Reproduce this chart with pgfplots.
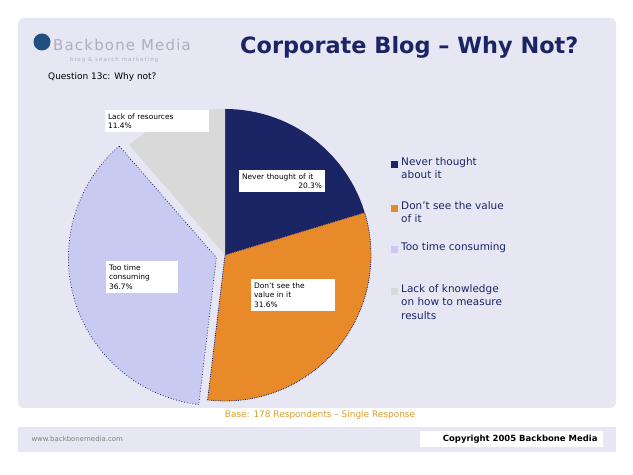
\documentclass[border=0pt]{standalone}
\usepackage{pgfplots}
\pgfplotsset{compat=1.18}
\usepackage{fontspec}
\setmainfont{DejaVu Sans}
\definecolor{navy}{HTML}{1B2465}
\definecolor{pieorange}{HTML}{E8892A}
\definecolor{lav}{HTML}{C9CAF2}
\definecolor{piegray}{HTML}{D9D9D9}
\definecolor{panel}{HTML}{E6E7F2}
\definecolor{logoblue}{HTML}{1F5080}
\definecolor{logogray}{HTML}{ADAFC0}
\definecolor{srcorange}{HTML}{D9A030}
% slice values (percent)
\def\vA{20.3} % Never thought about it
\def\vB{31.6} % Don't see the value in it
\def\vC{36.7} % Too time consuming
\def\vD{11.4} % Lack of ...
\begin{document}
\begin{tikzpicture}[x=1bp,y=1bp]
\pgfmathsetmacro{\aA}{90}
\pgfmathsetmacro{\aB}{90-3.6*\vA}
\pgfmathsetmacro{\aC}{\aB-3.6*\vB}
\pgfmathsetmacro{\aD}{\aC-3.6*\vC}
\pgfmathsetmacro{\aE}{\aD-3.6*\vD}
\pgfmathsetmacro{\mC}{(\aC+\aD)/2}
\fill[white] (0,0) rectangle (633,475);
\fill[panel, rounded corners=6bp] (18,67) rectangle (616,457);
\fill[panel] (18,23) rectangle (616,48);
% logo
\fill[logoblue] (42,433) circle (8.5);
\node[anchor=west, text=logogray, font=\fontsize{15}{15}\selectfont\addfontfeature{LetterSpace=8}, inner sep=0pt] at (53,430) {Backbone Media};
\node[anchor=west, text=logogray, font=\fontsize{5.5}{5.5}\selectfont\addfontfeature{LetterSpace=20}, inner sep=0pt] at (70,415) {blog \& search marketing};
% title
\node[anchor=west, text=navy, font=\bfseries\fontsize{22.5}{22.5}\selectfont, inner sep=0pt] at (240,428) {Corporate Blog – Why Not?};
\node[anchor=west, text=black, font=\fontsize{9}{9}\selectfont, inner sep=0pt] at (48,398) {Question 13c: Why not?};
% pie
\begin{axis}[at={(225bp,220bp)}, anchor=center, scale only axis,
  width=320bp, height=320bp, xmin=-160, xmax=160, ymin=-160, ymax=160,
  hide axis, clip=false]
\addplot[fill=navy, draw=none, domain=\aB:\aA, samples=60]
  ({146*cos(x)}, {146*sin(x)}) -- (axis cs:0,0) -- cycle;
\addplot[fill=pieorange, draw=navy, densely dotted, line width=0.8pt, domain=\aC:\aB, samples=60]
  ({146*cos(x)}, {146*sin(x)}) -- (axis cs:0,0) -- cycle;
\addplot[fill=piegray, draw=none, domain=\aE:\aD, samples=60]
  ({146*cos(x)}, {146*sin(x)}) -- (axis cs:0,0) -- cycle;
\addplot[fill=lav, draw=navy, dotted, line width=0.8pt, domain=\aD:\aC, samples=60]
  ({9*cos(\mC)+148*cos(x)}, {9*sin(\mC)+148*sin(x)}) -- (axis cs:{9*cos(\mC)},{9*sin(\mC)}) -- cycle;
\end{axis}
% slice labels
\tikzset{lab/.style={fill=white, text=black, align=left, font=\fontsize{7.5}{9.5}\selectfont, inner sep=3.5pt}}
\node[lab, text width=80bp] at (282,294) {Never thought of it\\ \hfill 20.3\%};
\node[lab, text width=78bp] at (293,180) {Don't see the\\value in it\\31.6\%};
\node[lab, text width=66bp] at (142,198) {Too time\\consuming\\36.7\%};
\node[lab, text width=98bp] at (157,354) {Lack of resources\\11.4\%};
% legend
\tikzset{leg/.style={anchor=north west, text=navy, align=left, font=\fontsize{10.5}{13.5}\selectfont, inner sep=0pt}}
\fill[navy] (391,307) rectangle (398,314);
\node[leg] at (401,318) {Never thought\\ about it};
\fill[pieorange] (391,263) rectangle (398,270);
\node[leg] at (401,274) {Don't see the value\\ of it};
\fill[lav] (391,222) rectangle (398,229);
\node[leg] at (401,233) {Too time consuming};
\fill[piegray] (391,180) rectangle (398,187);
\node[leg] at (401,191) {Lack of knowledge\\ on how to measure\\ results};
% source
\node[text=srcorange, font=\fontsize{9}{9}\selectfont] at (320,60) {Base: 178 Respondents – Single Response};
% footer
\node[anchor=west, text=gray, font=\fontsize{7}{7}\selectfont] at (28,36) {www.backbonemedia.com};
\fill[white] (420,28) rectangle (603,44);
\node[anchor=east, text=black, font=\bfseries\fontsize{8.5}{8.5}\selectfont] at (601,36) {Copyright 2005 Backbone Media};
\end{tikzpicture}
\end{document}
